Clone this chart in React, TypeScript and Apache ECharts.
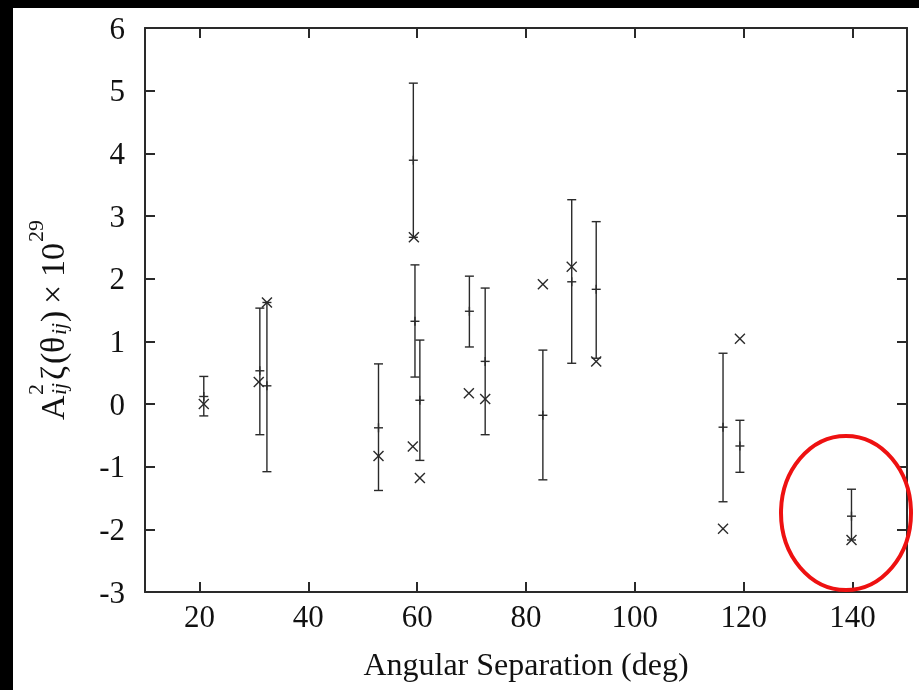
import React, { useEffect, useRef } from "react";
import * as echarts from "echarts";

// Error-bar points (+ markers): angle, centre value, upper and lower ends
const barAngles = [20.8, 31.1, 32.4, 52.9, 59.3, 59.6, 60.5, 69.6, 72.5, 83.1, 88.4, 92.9, 116.2, 119.3, 139.8];
const barCenters = [0.12, 0.53, 0.29, -0.38, 3.89, 1.32, 0.06, 1.48, 0.68, -0.18, 1.95, 1.83, -0.37, -0.67, -1.79];
const barUpper = [0.44, 1.53, 1.62, 0.64, 5.12, 2.22, 1.02, 2.04, 1.85, 0.86, 3.26, 2.91, 0.81, -0.26, -1.36];
const barLower = [-0.19, -0.49, -1.08, -1.38, 2.66, 0.43, -0.9, 0.91, -0.49, -1.21, 0.65, 0.73, -1.56, -1.09, -2.17];

// Cross (x) markers
const crossAngles = [20.8, 30.9, 32.4, 52.9, 59.4, 59.2, 60.5, 69.5, 72.5, 83.1, 88.4, 92.9, 116.2, 119.3, 139.8];
const crossValues = [0.0, 0.35, 1.62, -0.83, 2.66, -0.68, -1.18, 0.17, 0.08, 1.91, 2.19, 0.68, -1.99, 1.04, -2.17];

// Axis ticks
const xTicks = [20, 40, 60, 80, 100, 120, 140];
const xMin = 10;
const xMax = 150;
const yMin = -3;
const yMax = 6;

const SERIF = "Liberation Serif";
const INK = "#2a2a2a";
const TXT = "#111111";

export default function App() {
  const ref = useRef<HTMLDivElement>(null);

  useEffect(() => {
    if (!ref.current) return;
    const chart = echarts.init(ref.current, null, { renderer: "svg" });

    const barData = barAngles.map((a, i) => [a, barLower[i], barUpper[i], barCenters[i]]);
    const crossData = crossAngles.map((a, i) => [a, crossValues[i]]);

    const lineStyle = { stroke: INK, lineWidth: 1.4 };

    const t = (text: string, x: number, y: number, fontSize: number, italic?: boolean) => ({
      type: "text",
      x,
      y,
      style: {
        text,
        font: (italic ? "italic " : "") + fontSize + "px 'Liberation Serif'",
        fill: TXT,
        align: "left",
        verticalAlign: "middle",
      },
    });

    const option: any = {
      animation: false,
      grid: { left: 145, top: 28, right: 12, bottom: 98 },
      xAxis: [
        {
          type: "value",
          min: xMin,
          max: xMax,
          position: "bottom",
          name: "Angular Separation (deg)",
          nameLocation: "middle",
          nameGap: 56,
          nameTextStyle: { fontFamily: SERIF, fontSize: 32, color: TXT },
          axisLine: { show: true, onZero: false, lineStyle: { color: INK, width: 2 } },
          axisTick: { show: true, inside: true, length: 10, customValues: xTicks, lineStyle: { color: INK, width: 2 } },
          axisLabel: { show: true, customValues: xTicks, fontFamily: SERIF, fontSize: 31, color: TXT, margin: 9 },
          splitLine: { show: false },
        },
        {
          type: "value",
          min: xMin,
          max: xMax,
          position: "top",
          axisLine: { show: true, onZero: false, lineStyle: { color: INK, width: 2 } },
          axisTick: { show: true, inside: true, length: 10, customValues: xTicks, lineStyle: { color: INK, width: 2 } },
          axisLabel: { show: false },
          splitLine: { show: false },
        },
      ],
      yAxis: [
        {
          type: "value",
          min: yMin,
          max: yMax,
          interval: 1,
          position: "left",
          axisLine: { show: true, onZero: false, lineStyle: { color: INK, width: 2 } },
          axisTick: { show: true, inside: true, length: 10, lineStyle: { color: INK, width: 2 } },
          axisLabel: { show: true, fontFamily: SERIF, fontSize: 31, color: TXT, margin: 20 },
          splitLine: { show: false },
        },
        {
          type: "value",
          min: yMin,
          max: yMax,
          interval: 1,
          position: "right",
          axisLine: { show: true, onZero: false, lineStyle: { color: INK, width: 2 } },
          axisTick: { show: true, inside: true, length: 10, lineStyle: { color: INK, width: 2 } },
          axisLabel: { show: false },
          splitLine: { show: false },
        },
      ],
      series: [
        {
          type: "custom",
          name: "errorbars",
          xAxisIndex: 0,
          yAxisIndex: 0,
          encode: { x: 0, y: [1, 2, 3] },
          data: barData,
          renderItem: (params: any, api: any) => {
            const x = api.value(0);
            const lo = api.coord([x, api.value(1)]);
            const hi = api.coord([x, api.value(2)]);
            const c = api.coord([x, api.value(3)]);
            const cap = 4.5;
            const pl = 4.5;
            return {
              type: "group",
              children: [
                { type: "line", shape: { x1: hi[0], y1: hi[1], x2: lo[0], y2: lo[1] }, style: lineStyle },
                { type: "line", shape: { x1: hi[0] - cap, y1: hi[1], x2: hi[0] + cap, y2: hi[1] }, style: lineStyle },
                { type: "line", shape: { x1: lo[0] - cap, y1: lo[1], x2: lo[0] + cap, y2: lo[1] }, style: lineStyle },
                { type: "line", shape: { x1: c[0] - pl, y1: c[1], x2: c[0] + pl, y2: c[1] }, style: lineStyle },
                { type: "line", shape: { x1: c[0], y1: c[1] - pl, x2: c[0], y2: c[1] + pl }, style: lineStyle },
              ],
            };
          },
          z: 3,
        },
        {
          type: "custom",
          name: "crosses",
          xAxisIndex: 0,
          yAxisIndex: 0,
          encode: { x: 0, y: 1 },
          data: crossData,
          renderItem: (params: any, api: any) => {
            const p = api.coord([api.value(0), api.value(1)]);
            const s = 5;
            return {
              type: "group",
              children: [
                { type: "line", shape: { x1: p[0] - s, y1: p[1] - s, x2: p[0] + s, y2: p[1] + s }, style: lineStyle },
                { type: "line", shape: { x1: p[0] - s, y1: p[1] + s, x2: p[0] + s, y2: p[1] - s }, style: lineStyle },
              ],
            };
          },
          z: 3,
        },
      ],
      graphic: [
        { type: "rect", shape: { x: 0, y: 0, width: 919, height: 8 }, style: { fill: "#000" }, z: 10 },
        { type: "rect", shape: { x: 0, y: 0, width: 13, height: 690 }, style: { fill: "#000" }, z: 10 },
        {
          type: "ellipse",
          shape: { cx: 846, cy: 513, rx: 65, ry: 77 },
          style: { fill: "none", stroke: "#ee1111", lineWidth: 4 },
          z: 20,
        },
        {
          type: "group",
          x: 52,
          y: 420,
          rotation: Math.PI / 2,
          z: 5,
          children: [
            t("A", 0, 0, 34),
            t("2", 25, -17, 22),
            t("ij", 25, 6, 22, true),
            t("ζ", 40, 0, 34),
            t("(", 56, 0, 34),
            t("θ", 67, 0, 34),
            t("ij", 85, 6, 22, true),
            t(")", 98, 0, 34),
            t("×", 116, 0, 34),
            t("10", 143, 0, 34),
            t("29", 178, -17, 22),
          ],
        },
      ],
    };

    chart.setOption(option);
    return () => chart.dispose();
  }, []);

  return <div ref={ref} style={{ position: "fixed", left: 0, top: 0, width: 919, height: 690 }} />;
}
